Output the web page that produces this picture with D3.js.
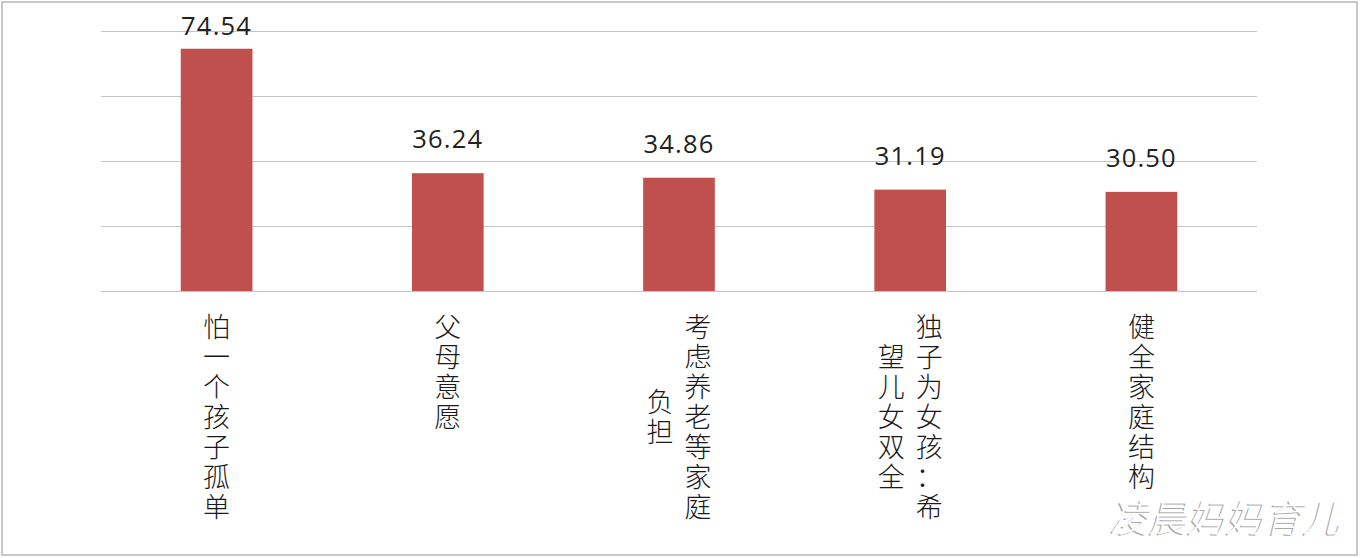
<!DOCTYPE html>
<html>
<head>
<meta charset="utf-8">
<script src="https://cdn.jsdelivr.net/npm/d3@7"></script>
<style>
  html, body { margin: 0; padding: 0; background: #ffffff; }
  svg { display: block; }
</style>
</head>
<body>
<svg id="chart" width="1360" height="558"></svg>
<script>
// ---- data ----
const categories = ["怕一个孩子孤单", "父母意愿", "考虑养老等家庭负担", "独子为女孩：希望儿女双全", "健全家庭结构"];
const values = [74.54, 36.24, 34.86, 31.19, 30.50];
const yTicks = [0, 20, 40, 60, 80];
const watermark = "凌晨妈妈育儿";

// ---- layout ----
const W = 1360, H = 558;
const svg = d3.select("#chart");

svg.append("rect").attr("x", 0).attr("y", 0).attr("width", W).attr("height", H).attr("fill", "#ffffff");
// outer frame
svg.append("rect").attr("x", 2).attr("y", 2).attr("width", W - 5).attr("height", H - 5)
  .attr("fill", "none").attr("stroke", "#c8c8c8").attr("stroke-width", 2);

const x = d3.scaleBand().domain(categories).range([101, 1257]).paddingInner(0.69).paddingOuter(0.345);
const y = d3.scaleLinear().domain([0, 80]).range([291, 31]);

// gridlines through an axis
const yAxis = d3.axisLeft(y).tickValues(yTicks).tickSize(-(1257 - 101)).tickFormat("");
const g = svg.append("g").attr("transform", "translate(101,0)").call(yAxis);
g.select(".domain").remove();
g.selectAll(".tick line").attr("stroke", "#c4c4c4").attr("stroke-width", 1);

// bars
svg.append("g").selectAll("rect").data(values).join("rect")
  .attr("x", (d, i) => x(categories[i]))
  .attr("y", d => y(d))
  .attr("width", x.bandwidth())
  .attr("height", d => y(0) - y(d))
  .attr("fill", "#C0504D");

// value labels
svg.append("g").selectAll("text").data(values).join("text")
  .attr("x", (d, i) => x(categories[i]) + x.bandwidth() / 2)
  .attr("y", d => Math.max(y(d) - 25, 35))
  .attr("text-anchor", "middle")
  .attr("font-family", "'Open Sans', sans-serif")
  .attr("font-size", 25.5)
  .attr("letter-spacing", 1.2)
  .attr("fill", "#222")
  .text(d => d.toFixed(2));

// vertical category labels (stacked characters, columns right-to-left, shorter columns centred)
const perCol = 7, pitch = 30, colGap = 38, topY = 310;
categories.forEach((c, i) => {
  const chars = Array.from(c);
  const cols = [];
  for (let k = 0; k < chars.length; k += perCol) cols.push(chars.slice(k, k + perCol));
  const maxLen = d3.max(cols, d => d.length);
  const cx = x(c) + x.bandwidth() / 2;
  const n = cols.length;
  cols.forEach((col, j) => {
    const colX = cx + ((n - 1) / 2 - j) * colGap;
    const off = (maxLen - col.length) * pitch / 2;
    svg.append("g").selectAll("text").data(col).join("text")
      .attr("x", colX)
      .attr("y", (d, k) => topY + off + k * pitch + pitch / 2)
      .attr("text-anchor", "middle")
      .attr("dominant-baseline", "central")
      .attr("font-family", "'Noto Sans CJK SC', sans-serif")
      .attr("font-weight", 300)
      .attr("font-size", 27)
      .attr("fill", "#1a1a1a")
      .text(d => d);
  });
});

// watermark
const wm = svg.append("g").attr("transform", "translate(1110,532) skewX(-14)");
wm.append("text").attr("x", -1.2).attr("y", 1.2)
  .attr("font-family", "'Noto Sans CJK SC', sans-serif").attr("font-size", 38).attr("font-weight", 300)
  .attr("fill", "#a8a8a8").attr("letter-spacing", 0.5).text(watermark);
wm.append("text").attr("x", 0).attr("y", 0)
  .attr("font-family", "'Noto Sans CJK SC', sans-serif").attr("font-size", 38).attr("font-weight", 300)
  .attr("fill", "#ffffff").attr("letter-spacing", 0.5).text(watermark);
</script>
</body>
</html>
